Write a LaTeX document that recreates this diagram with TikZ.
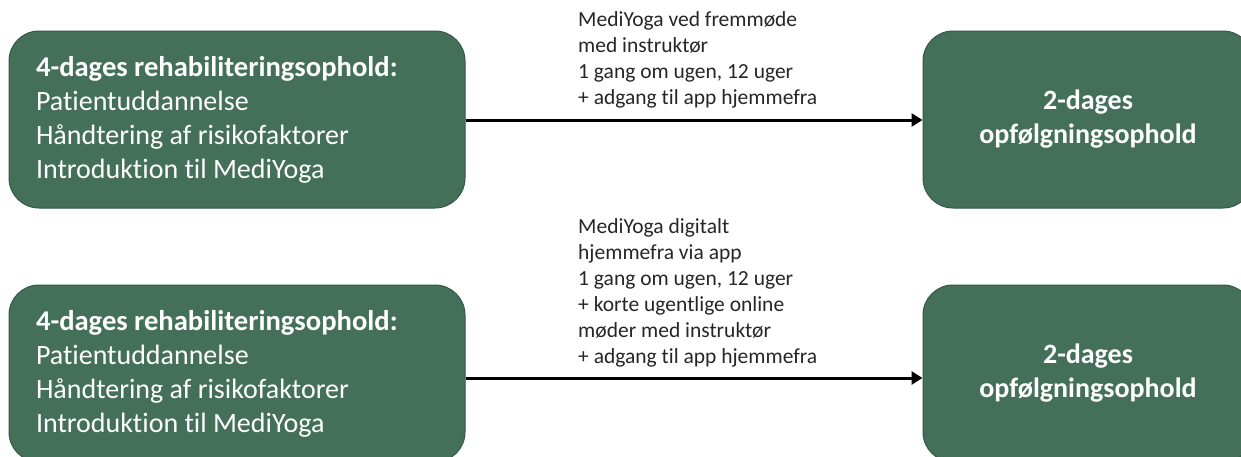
\documentclass[tikz,border=0pt]{standalone}
\usepackage{fontspec}
\setmainfont{Carlito}[Ligatures={NoCommon}]
\usetikzlibrary{arrows.meta}
\definecolor{boxgreen}{RGB}{68,112,89}
\definecolor{boxedge}{RGB}{52,88,70}
\definecolor{labeltext}{RGB}{38,38,38}
\tikzset{
  greenbox/.style={draw=boxedge, line width=1pt, fill=boxgreen, rounded corners=30pt, text=white, inner sep=0pt},
  leftbox/.style={greenbox, minimum width=456pt, minimum height=177pt, text width=402pt, align=flush left,
    font=\fontsize{28}{34}\selectfont},
  rightbox/.style={greenbox, minimum width=330pt, minimum height=177pt, align=center,
    font=\fontsize{28}{34}\selectfont\bfseries},
  lbl/.style={text=labeltext, align=left, inner sep=0pt, font=\fontsize{21.5}{25.9}\selectfont},
  arr/.style={line width=3pt, -{Triangle[length=11pt,width=13pt]}},
}
\begin{document}
\begin{tikzpicture}[x=1pt,y=-1pt]
\clip (0,0) rectangle (1241,456);
\fill[white] (0,0) rectangle (1241,456);
\node[leftbox] (L1) at (237,119.5) {{\fontsize{28.6}{34}\selectfont\bfseries 4-dages rehabiliteringsophold:}\\Patientuddannelse\\Håndtering af risikofaktorer\\Introduktion til MediYoga};
\node[rightbox] (R1) at (1088,119.5) {2-dages\\opfølgningsophold};
\node[leftbox] (L2) at (237,373.5) {{\fontsize{28.6}{34}\selectfont\bfseries 4-dages rehabiliteringsophold:}\\Patientuddannelse\\Håndtering af risikofaktorer\\Introduktion til MediYoga};
\node[rightbox] (R2) at (1088,373.5) {2-dages\\opfølgningsophold};
\draw[arr] ([yshift=-0.5pt]L1.east) -- ([yshift=-0.5pt]R1.west);
\draw[arr] ([yshift=-4.5pt]L2.east) -- ([yshift=-4.5pt]R2.west);
\node[lbl, anchor=south west] (T1) at (578,108) {MediYoga ved fremmøde\\med instruktør\\1 gang om ugen, 12 uger\\+ adgang til app hjemmefra};
\node[lbl, anchor=south west] (T2) at (578,367) {MediYoga digitalt\\hjemmefra via app\\1 gang om ugen, 12 uger\\+ korte ugentlige online\\møder med instruktør\\+ adgang til app hjemmefra};
\end{tikzpicture}
\end{document}
